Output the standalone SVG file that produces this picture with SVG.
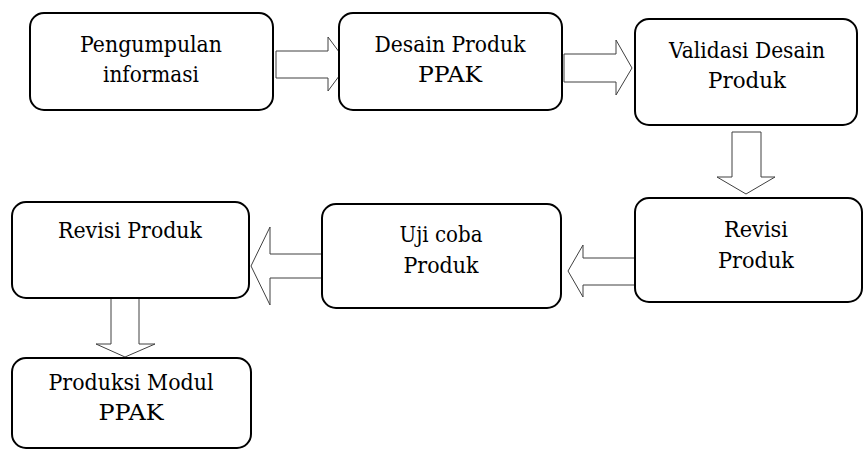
<svg xmlns="http://www.w3.org/2000/svg" width="865" height="450" viewBox="0 0 865 450">
<style>
.box{fill:#fff;stroke:#000;stroke-width:2}
.arr{fill:#fff;stroke:#404040;stroke-width:1;stroke-linejoin:miter}
.t{font-family:"DejaVu Serif",serif;font-size:23px;fill:#000;text-anchor:middle}
</style>
<rect width="865" height="450" fill="#fff"/>
<g id="connectors">
<polygon class="arr" points="276,51 328,51 328,37 348,64 328,91 328,78 276,78"/>
<polygon class="arr" points="564,54 616,54 616,40 632,68 616,95 616,82 564,82"/>
<polygon class="arr" points="732,132 761,132 761,177 775,177 746,194 717,177 732,177"/>
<polygon class="arr" points="637,258 583,258 583,245 568,271 583,297 583,285 637,285"/>
<polygon class="arr" points="322,254 270,254 270,227 251,266 270,305 270,278 322,278"/>
<polygon class="arr" points="111,297 139,297 139,344 155,344 125,357 96,344 111,344"/>
</g>
<g id="n1"><rect class="box" x="30" y="13" width="243" height="97" rx="14"/>
<text class="t" x="151" y="52" textLength="142" lengthAdjust="spacingAndGlyphs">Pengumpulan</text><text class="t" x="151" y="82" textLength="96" lengthAdjust="spacingAndGlyphs">informasi</text></g>
<g id="n2"><rect class="box" x="339" y="13" width="223" height="97" rx="14"/>
<text class="t" x="450" y="52" textLength="151" lengthAdjust="spacingAndGlyphs">Desain Produk</text><text class="t" x="450" y="82" textLength="64" lengthAdjust="spacingAndGlyphs">PPAK</text></g>
<g id="n3"><rect class="box" x="635" y="19" width="222" height="106" rx="14"/>
<text class="t" x="747" y="58" textLength="156" lengthAdjust="spacingAndGlyphs">Validasi Desain</text><text class="t" x="747" y="88" textLength="78" lengthAdjust="spacingAndGlyphs">Produk</text></g>
<g id="n4"><rect class="box" x="635" y="198" width="227" height="104" rx="14"/>
<text class="t" x="756" y="237" textLength="64" lengthAdjust="spacingAndGlyphs">Revisi</text><text class="t" x="756" y="268" textLength="76" lengthAdjust="spacingAndGlyphs">Produk</text></g>
<g id="n5"><rect class="box" x="322" y="204" width="239" height="104" rx="14"/>
<text class="t" x="441" y="242" textLength="83" lengthAdjust="spacingAndGlyphs">Uji coba</text><text class="t" x="441" y="273" textLength="75" lengthAdjust="spacingAndGlyphs">Produk</text></g>
<g id="n6"><rect class="box" x="12" y="202" width="237" height="96" rx="14"/>
<text class="t" x="130" y="238" textLength="144" lengthAdjust="spacingAndGlyphs">Revisi Produk</text></g>
<g id="n7"><rect class="box" x="12" y="358" width="239" height="90" rx="14"/>
<text class="t" x="131" y="390" textLength="165" lengthAdjust="spacingAndGlyphs">Produksi Modul</text><text class="t" x="131" y="420" textLength="65" lengthAdjust="spacingAndGlyphs">PPAK</text></g>
</svg>
